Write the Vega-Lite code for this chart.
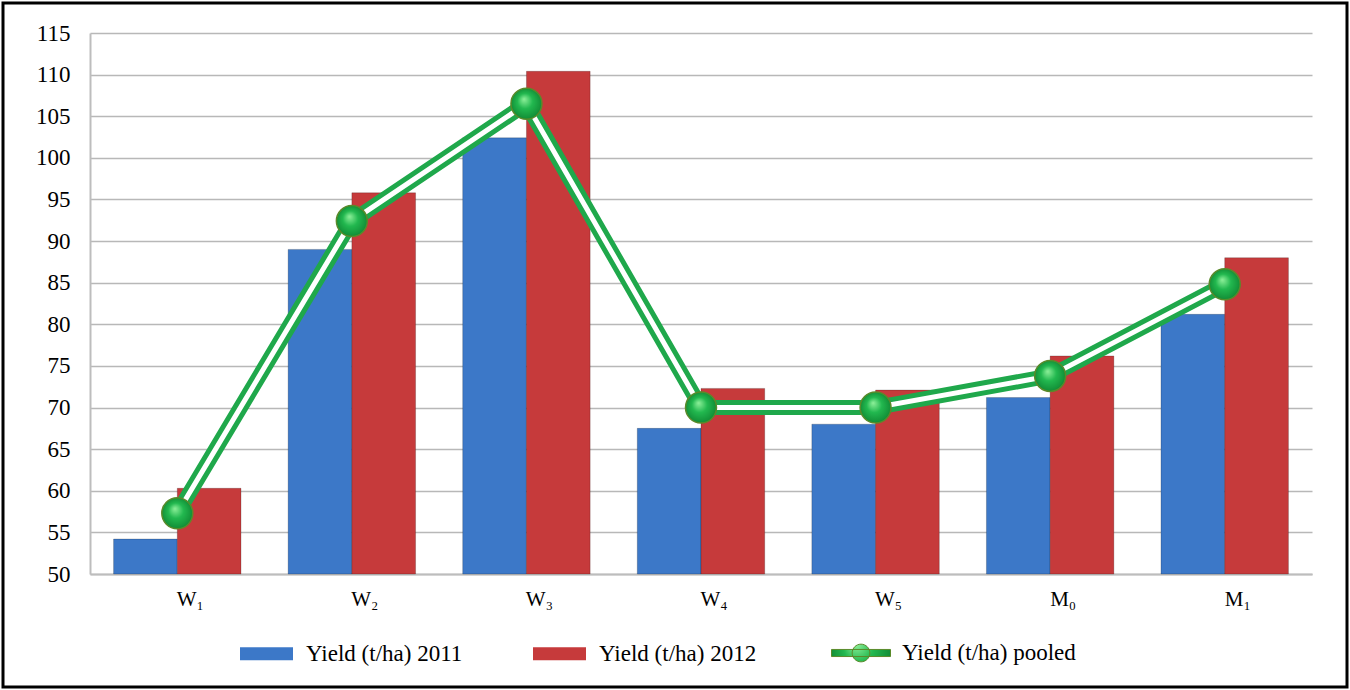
{
  "$schema": "https://vega.github.io/schema/vega-lite/v6.json",
  "width": 1344,
  "height": 684,
  "padding": 3,
  "autosize": {"type": "none"},
  "background": "white",
  "config": {
    "view": {"stroke": "black", "strokeWidth": 3},
    "font": "'Times New Roman', 'Liberation Serif', 'DejaVu Serif', serif",
    "axis": {"labelFont": "'Times New Roman', 'Liberation Serif', 'DejaVu Serif', serif"},
    "legend": {"labelFont": "'Times New Roman', 'Liberation Serif', 'DejaVu Serif', serif"}
  },
  "data": {
    "values": [
      {"treatment": "W₁", "series": "Yield (t/ha) 2011", "yield": 54.2},
      {"treatment": "W₁", "series": "Yield (t/ha) 2012", "yield": 60.3},
      {"treatment": "W₁", "series": "Yield (t/ha) pooled", "yield": 57.3},
      {"treatment": "W₂", "series": "Yield (t/ha) 2011", "yield": 89.0},
      {"treatment": "W₂", "series": "Yield (t/ha) 2012", "yield": 95.8},
      {"treatment": "W₂", "series": "Yield (t/ha) pooled", "yield": 92.4},
      {"treatment": "W₃", "series": "Yield (t/ha) 2011", "yield": 102.4},
      {"treatment": "W₃", "series": "Yield (t/ha) 2012", "yield": 110.4},
      {"treatment": "W₃", "series": "Yield (t/ha) pooled", "yield": 106.5},
      {"treatment": "W₄", "series": "Yield (t/ha) 2011", "yield": 67.5},
      {"treatment": "W₄", "series": "Yield (t/ha) 2012", "yield": 72.3},
      {"treatment": "W₄", "series": "Yield (t/ha) pooled", "yield": 70.0},
      {"treatment": "W₅", "series": "Yield (t/ha) 2011", "yield": 68.0},
      {"treatment": "W₅", "series": "Yield (t/ha) 2012", "yield": 72.1},
      {"treatment": "W₅", "series": "Yield (t/ha) pooled", "yield": 70.0},
      {"treatment": "M₀", "series": "Yield (t/ha) 2011", "yield": 71.2},
      {"treatment": "M₀", "series": "Yield (t/ha) 2012", "yield": 76.2},
      {"treatment": "M₀", "series": "Yield (t/ha) pooled", "yield": 73.8},
      {"treatment": "M₁", "series": "Yield (t/ha) 2011", "yield": 81.2},
      {"treatment": "M₁", "series": "Yield (t/ha) 2012", "yield": 88.0},
      {"treatment": "M₁", "series": "Yield (t/ha) pooled", "yield": 84.8}
    ]
  },
  "encoding": {
    "x": {
      "field": "treatment",
      "type": "nominal",
      "sort": null,
      "scale": {
        "domain": ["W₁", "W₂", "W₃", "W₄", "W₅", "M₀", "M₁"],
        "range": [87, 1309],
        "paddingInner": 0.27,
        "paddingOuter": 0.135
      },
      "axis": {
        "title": null,
        "orient": "bottom",
        "offset": -113,
        "labelAngle": 0,
        "labelFontSize": 21,
        "labelColor": "black",
        "labelPadding": 14,
        "labelOffset": 13,
        "ticks": false,
        "domainColor": "#bdbdbd",
        "domainWidth": 2,
        "grid": false
      }
    }
  },
  "layer": [
    {
      "transform": [{"filter": "datum.series !== 'Yield (t/ha) pooled'"}],
      "mark": {"type": "bar", "stroke": "#00000033", "strokeWidth": 1},
      "encoding": {
        "xOffset": {"field": "series", "sort": null},
        "y": {
          "field": "yield",
          "type": "quantitative",
          "scale": {"domain": [50, 115], "range": [571, 30], "zero": false, "nice": false},
          "axis": {
            "title": null,
            "offset": -87,
            "values": [50, 55, 60, 65, 70, 75, 80, 85, 90, 95, 100, 105, 110, 115],
            "labelFontSize": 23,
            "labelColor": "black",
            "labelPadding": 20,
            "ticks": false,
            "domainColor": "#bdbdbd",
            "domainWidth": 2,
            "grid": true,
            "gridColor": "#b8b8b8",
            "gridWidth": 1.5
          }
        },
        "y2": {"datum": 50},
        "fill": {
          "field": "series",
          "type": "nominal",
          "scale": {
            "domain": ["Yield (t/ha) 2011", "Yield (t/ha) 2012"],
            "range": ["#3c78c8", "#c63a3b"]
          },
          "legend": {
            "title": null,
            "orient": "none",
            "legendX": 237,
            "legendY": 624,
            "direction": "horizontal",
            "symbolType": "M-1,-0.245H1V0.245H-1Z",
            "symbolSize": 2809,
            "symbolStrokeWidth": 0,
            "labelFontSize": 23,
            "labelColor": "black",
            "labelOffset": 13,
            "labelLimit": 400,
            "columnPadding": 70,
            "padding": 0
          }
        }
      }
    },
    {
      "transform": [{"filter": "datum.series === 'Yield (t/ha) pooled'"}],
      "mark": {"type": "line", "color": "#1fa84b", "strokeWidth": 15, "strokeJoin": "miter"},
      "encoding": {"y": {"field": "yield", "type": "quantitative"}}
    },
    {
      "transform": [{"filter": "datum.series === 'Yield (t/ha) pooled'"}],
      "mark": {"type": "line", "color": "white", "strokeWidth": 5, "strokeJoin": "miter"},
      "encoding": {"y": {"field": "yield", "type": "quantitative"}}
    },
    {
      "transform": [{"filter": "datum.series === 'Yield (t/ha) pooled'"}],
      "mark": {
        "type": "point",
        "filled": true,
        "opacity": 1,
        "size": 960,
        "strokeWidth": 1.5,
        "fill": {
          "gradient": "radial",
          "x1": 0.42, "y1": 0.35, "r1": 0,
          "x2": 0.5, "y2": 0.5, "r2": 0.55,
          "stops": [
            {"offset": 0, "color": "#8ef09a"},
            {"offset": 0.45, "color": "#22b84f"},
            {"offset": 1, "color": "#0f8632"}
          ]
        }
      },
      "encoding": {
        "y": {"field": "yield", "type": "quantitative"},
        "stroke": {
          "field": "series",
          "type": "nominal",
          "scale": {"domain": ["Yield (t/ha) pooled"], "range": ["#5a8a2a"]},
          "legend": {
            "title": null,
            "orient": "none",
            "legendX": 828,
            "legendY": 620,
            "symbolType": "M-1,-0.12H1V0.12H-1Z M0.3,0A0.3,0.3 0 1,1 -0.3,0A0.3,0.3 0 1,1 0.3,0Z",
            "symbolSize": 3481,
            "symbolStrokeWidth": 1,
            "labelFontSize": 23,
            "labelColor": "black",
            "labelOffset": 11,
            "labelLimit": 400,
            "padding": 0,
            "encode": {
              "symbols": {"update": {"fill": {"value": "#3cc060"}, "stroke": {"value": "#1d8a3a"}}}
            }
          }
        }
      }
    }
  ]
}
